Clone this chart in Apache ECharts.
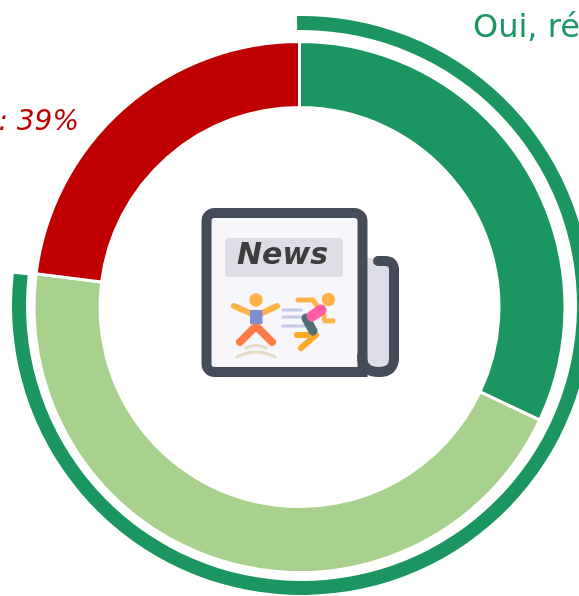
<!DOCTYPE html>
<html>
<head>
<meta charset="utf-8">
<script src="https://cdn.jsdelivr.net/npm/echarts@6/dist/echarts.min.js"></script>
<style>
  html, body { margin: 0; padding: 0; background: #fff; }
  #main { width: 579px; height: 596px; }
</style>
</head>
<body>
<div id="main"></div>
<script>
const sliceNames = ['Oui, tout à fait', 'Oui, plutôt', 'Non'];
const sliceValues = [32, 45, 23];
const sliceColors = ['#1b9660', '#a9d18e', '#c00000'];
const ouiLabel = 'Oui, ré';
const nonLabel = ': 39%';
const newsLabel = 'News';

const ink = '#454c59';
const myChart = echarts.init(document.getElementById('main'));

function line(points, color, width) {
  return { type: 'polyline', shape: { points: points }, style: { fill: null, stroke: color, lineWidth: width, lineCap: 'round', lineJoin: 'round' } };
}
function curve(x1, y1, cx, cy, x2, y2, color, width) {
  return { type: 'bezierCurve', shape: { x1: x1, y1: y1, cpx1: cx, cpy1: cy, x2: x2, y2: y2 }, style: { fill: null, stroke: color, lineWidth: width, lineCap: 'round' } };
}
function dot(cx, cy, r, color) {
  return { type: 'circle', shape: { cx: cx, cy: cy, r: r }, style: { fill: color } };
}

// newspaper icon in the hole of the donut
const icon = [
  { type: 'polygon', shape: { points: [[362, 258], [388, 258], [394, 268], [394, 362], [384, 372], [362, 372]] }, style: { fill: '#dcdde5' } },
  { type: 'rect', shape: { x: 206.5, y: 213, width: 156, height: 159, r: [8, 8, 0, 8] }, style: { fill: '#f6f6fb', stroke: ink, lineWidth: 10 } },
  line([[378, 261], [385, 261]], ink, 10),
  curve(385, 261, 394, 261, 394, 270, ink, 10),
  line([[394, 270], [394, 358]], ink, 10),
  curve(394, 358, 394, 372, 379, 372, ink, 10),
  curve(379, 372, 362, 372, 362, 356, ink, 10),
  { type: 'rect', shape: { x: 225, y: 238, width: 118, height: 39, r: 4 }, style: { fill: '#dcdde5' } },
  { type: 'text', style: { x: 282.5, y: 256, text: newsLabel, align: 'center', verticalAlign: 'middle', fill: '#3d3d3d', font: 'italic bold 30px "DejaVu Sans"' } },
  // jumping figure
  line([[234, 306], [250, 313]], '#ffb14a', 6),
  line([[277, 306], [262, 313]], '#ffb14a', 6),
  dot(256, 300, 6.7, '#ffb14a'),
  line([[256, 326], [240, 342]], '#ff7a45', 8),
  line([[256, 326], [272, 342]], '#ff7a45', 8),
  { type: 'rect', shape: { x: 250, y: 310, width: 12.5, height: 14 }, style: { fill: '#7f8fcf' } },
  curve(246, 348, 256, 343, 266, 348, '#e6d9c4', 3),
  curve(237, 357, 256, 347, 275, 357, '#e6d9c4', 3),
  // running figure
  line([[283, 310], [301, 310]], '#c5cae9', 3),
  line([[283, 317], [301, 317]], '#c5cae9', 3),
  line([[283, 326], [306, 326]], '#c5cae9', 3),
  line([[298, 300], [313, 300], [318, 307]], '#ffb14a', 5),
  line([[322, 308], [325, 321], [333, 321]], '#ffb14a', 5),
  dot(328.5, 299.5, 6.7, '#ffb14a'),
  line([[297, 335], [316, 335], [301, 348]], '#ffa726', 6),
  line([[306, 318], [313, 331]], '#546e7a', 9),
  line([[312, 316], [321, 310]], '#ff5fa0', 11)
];

const option = {
  backgroundColor: '#fff',
  animation: false,
  tooltip: { show: false },
  graphic: {
    elements: icon.concat([
      { type: 'text', style: { x: 473, y: 28.5, text: ouiLabel, verticalAlign: 'middle', fill: sliceColors[0], font: '32px "DejaVu Sans"' } },
      { type: 'text', style: { x: 79, y: 123, text: nonLabel, align: 'right', verticalAlign: 'middle', fill: sliceColors[2], font: 'italic 28px "DejaVu Sans"' } }
    ])
  },
  series: [
    {
      type: 'pie',
      silent: true,
      center: [299.5, 307],
      radius: [199.5, 265.5],
      startAngle: 90,
      clockwise: true,
      label: { show: false },
      labelLine: { show: false },
      itemStyle: { borderColor: '#fff', borderWidth: 3 },
      data: sliceValues.map(function (v, i) {
        return { name: sliceNames[i], value: v, itemStyle: { color: sliceColors[i] } };
      })
    },
    {
      // outer ring spans the two "oui" slices
      type: 'pie',
      silent: true,
      center: [301.5, 305.5],
      radius: [275.5, 289.5],
      startAngle: 90.9,
      clockwise: true,
      label: { show: false },
      labelLine: { show: false },
      data: [
        { name: 'Oui', value: sliceValues[0] + sliceValues[1], itemStyle: { color: sliceColors[0] } },
        { name: 'Non', value: sliceValues[2], itemStyle: { color: 'transparent' } }
      ]
    }
  ]
};
myChart.setOption(option);
</script>
</body>
</html>
